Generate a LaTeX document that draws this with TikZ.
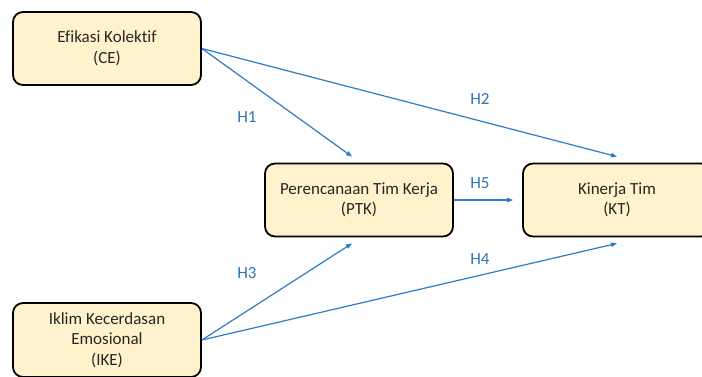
\documentclass[tikz,border=0pt]{standalone}
\usepackage{fontspec}
\setmainfont{Carlito}[Ligatures={NoCommon}]
\usetikzlibrary{arrows.meta,calc}
\definecolor{boxfill}{HTML}{FFF2CC}
\definecolor{arrowblue}{HTML}{2E7BC6}
\definecolor{labelblue}{HTML}{2F75B5}
\tikzset{
  varbox/.style={draw=black, line width=1.8pt, fill=boxfill, rounded corners=10pt,
    minimum width=188pt, minimum height=73pt, align=center,
    font=\fontsize{17pt}{20.5pt}\selectfont, text=black!85},
  conn/.style={draw=arrowblue, line width=1.2pt, -{Triangle[length=6pt,width=4.5pt]}},
  hlabel/.style={text=labelblue, font=\fontsize{17pt}{20pt}\selectfont}
}
\begin{document}
\begin{tikzpicture}[x=1pt,y=-1pt]
\useasboundingbox (0,0) rectangle (702,376);
\clip (0,0) rectangle (702,376);
\node[varbox] (CE) at (107,48.5) {Efikasi Kolektif\\(CE)};
\node[varbox] (PTK) at (359,200) {Perencanaan Tim Kerja\\(PTK)};
\node[varbox] (KT) at (617,200) {Kinerja Tim\\(KT)};
\node[varbox, minimum height=74pt] (IKE) at (107,340) {Iklim Kecerdasan\\Emosional\\(IKE)};
\draw[conn] (CE.east) -- ($(PTK.north)+(-7,-6)$);
\draw[conn] (CE.east) -- ($(KT.north)+(0,-6)$);
\draw[conn] (IKE.east) -- ($(PTK.south)+(-7,6)$);
\draw[conn] (IKE.east) -- ($(KT.south)+(0,6)$);
\draw[conn] (PTK.east) -- ($(KT.west)+(-9,0)$);
\node[hlabel] (H1) at (247,117) {H1};
\node[hlabel] (H2) at (480,99) {H2};
\node[hlabel] (H3) at (247,273) {H3};
\node[hlabel] (H4) at (480,259) {H4};
\node[hlabel] (H5) at (480,183) {H5};
\end{tikzpicture}
\end{document}
